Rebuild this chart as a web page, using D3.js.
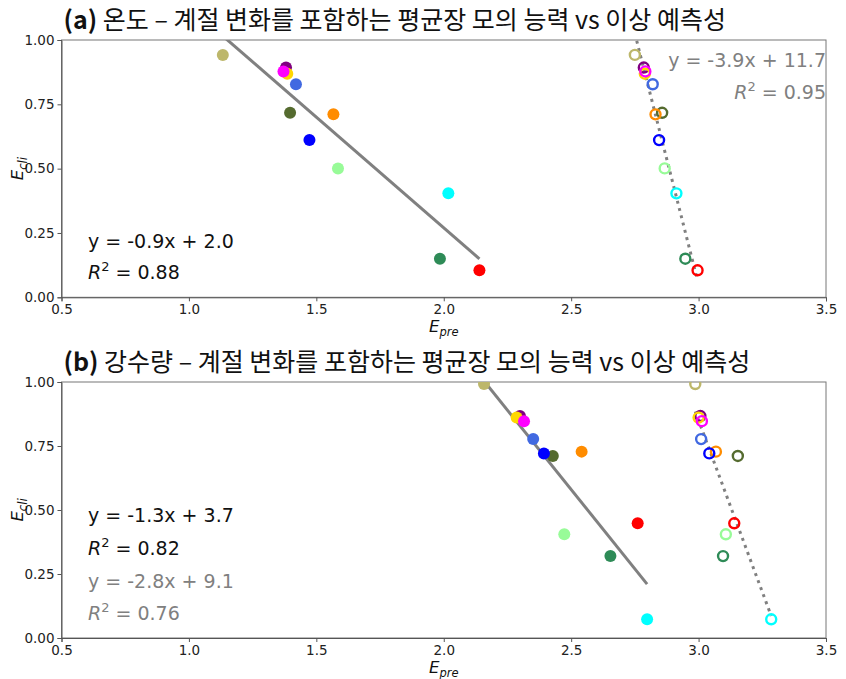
<!DOCTYPE html>
<html>
<head>
<meta charset="utf-8">
<script src="https://cdn.jsdelivr.net/npm/d3@7"></script>
<style>
  body { margin: 0; background: #fff; }
  svg { display: block; }
  .tick text { font-family: 'DejaVu Sans', sans-serif; font-size: 13.5px; fill: #222; }
  .domain, .tick line { stroke: #555; }
</style>
</head>
<body>
<svg id="chart" width="846" height="679"></svg>
<script>
'use strict';

// model colours (same order in every array below)
var colors = ['darkkhaki', 'purple', 'gold', 'magenta', 'royalblue', 'darkolivegreen',
  'darkorange', 'blue', 'palegreen', 'cyan', 'seagreen', 'red'];

// (a) temperature
var tempCli = [0.942, 0.893, 0.869, 0.878, 0.828, 0.717, 0.711, 0.611, 0.501, 0.404, 0.150, 0.105];
var tempPreFilled = [1.133, 1.381, 1.386, 1.371, 1.420, 1.397, 1.567, 1.473, 1.585, 2.018, 1.985, 2.140];
var tempPreOpen = [2.750, 2.785, 2.789, 2.791, 2.820, 2.857, 2.831, 2.845, 2.867, 2.913, 2.948, 2.996];

// (b) precipitation
var precipCli = [0.992, 0.867, 0.861, 0.847, 0.777, 0.711, 0.728, 0.721, 0.405, 0.073, 0.320, 0.448];
var precipPreFilled = [2.158, 2.299, 2.286, 2.315, 2.351, 2.428, 2.541, 2.393, 2.473, 2.798, 2.654, 2.761];
var precipPreOpen = [2.987, 3.007, 3.000, 3.013, 3.010, 3.154, 3.068, 3.042, 3.107, 3.285, 3.096, 3.140];

// fitted lines
var tempFitFilled = { slope: -0.86, intercept: 1.99, eq: 'y = -0.9x + 2.0', r2: '0.88' };
var tempFitOpen = { slope: -3.9, intercept: 11.75, eq: 'y = -3.9x + 11.7', r2: '0.95' };
var precipFitFilled = { slope: -1.24, intercept: 3.68, eq: 'y = -1.3x + 3.7', r2: '0.82' };
var precipFitOpen = { slope: -2.68, intercept: 8.89, eq: 'y = -2.8x + 9.1', r2: '0.76' };

var xTicks = [0.5, 1.0, 1.5, 2.0, 2.5, 3.0, 3.5];
var yTicks = [0, 0.25, 0.5, 0.75, 1.0];

var titleA = ['(a)', ' 온도 – 계절 변화를 포함하는 평균장 모의 능력 vs 이상 예측성'];
var titleB = ['(b)', ' 강수량 – 계절 변화를 포함하는 평균장 모의 능력 vs 이상 예측성'];

var svg = d3.select('#chart');
var left = 61.5, right = 826;

function panel(top, bottom, title, cli, preFilled, preOpen, fitFilled, fitOpen, eqLayout, id) {
  var x = d3.scaleLinear().domain([0.5, 3.5]).range([left, right]);
  var y = d3.scaleLinear().domain([0, 1]).range([bottom, top]);

  svg.append('clipPath').attr('id', id).append('rect')
    .attr('x', left).attr('y', top).attr('width', right - left).attr('height', bottom - top);

  // title
  var t = svg.append('text').attr('x', left + 2).attr('y', top - 11)
    .attr('font-family', "'Noto Sans CJK KR', 'Noto Sans', sans-serif")
    .attr('font-size', 25).attr('fill', '#111');
  t.append('tspan').attr('font-weight', 'bold').text(title[0]);
  t.append('tspan').text(title[1]);

  // frame
  svg.append('rect').attr('x', left).attr('y', top).attr('width', right - left).attr('height', bottom - top)
    .attr('fill', 'none').attr('stroke', '#777').attr('stroke-width', 1);

  svg.append('g').attr('transform', 'translate(0,' + bottom + ')')
    .call(d3.axisBottom(x).tickValues(xTicks).tickFormat(d3.format('.1f')).tickSizeOuter(0).tickSize(4));
  svg.append('g').attr('transform', 'translate(' + left + ',0)')
    .call(d3.axisLeft(y).tickValues(yTicks).tickFormat(d3.format('.2f')).tickSizeOuter(0).tickSize(4));

  // axis labels
  var xl = svg.append('text').attr('x', (left + right) / 2).attr('y', bottom + 35)
    .attr('text-anchor', 'middle').attr('font-family', 'DejaVu Sans, sans-serif')
    .attr('font-size', 16.5).attr('font-style', 'italic').attr('fill', '#111');
  xl.append('tspan').text('E');
  xl.append('tspan').attr('font-size', 11.5).attr('dy', 4).text('pre');

  var yl = svg.append('text').attr('transform', 'translate(23,' + (top + bottom) / 2 + ') rotate(-90)')
    .attr('text-anchor', 'middle').attr('font-family', 'DejaVu Sans, sans-serif')
    .attr('font-size', 16.5).attr('font-style', 'italic').attr('fill', '#111');
  yl.append('tspan').text('E');
  yl.append('tspan').attr('font-size', 11.5).attr('dy', 4).text('cli');

  var plot = svg.append('g').attr('clip-path', 'url(#' + id + ')');

  function fitLine(fit, xs, dash) {
    var ext = d3.extent(xs);
    plot.append('path')
      .datum(ext)
      .attr('d', d3.line().x(function (d) { return x(d); }).y(function (d) { return y(fit.slope * d + fit.intercept); }))
      .attr('fill', 'none').attr('stroke', 'gray').attr('stroke-width', 3)
      .attr('stroke-dasharray', dash ? '3,4.5' : null);
  }
  fitLine(fitFilled, preFilled, false);
  fitLine(fitOpen, preOpen, true);

  plot.selectAll('circle.filled').data(cli).enter().append('circle')
    .attr('class', 'filled')
    .attr('cx', function (d, i) { return x(preFilled[i]); })
    .attr('cy', function (d) { return y(d); })
    .attr('r', 6)
    .attr('fill', function (d, i) { return colors[i]; });

  plot.selectAll('circle.open').data(cli).enter().append('circle')
    .attr('class', 'open')
    .attr('cx', function (d, i) { return x(preOpen[i]); })
    .attr('cy', function (d) { return y(d); })
    .attr('r', 5)
    .attr('fill', 'none').attr('stroke-width', 2.4)
    .attr('stroke', function (d, i) { return colors[i]; });

  // equations
  eqLayout.forEach(function (e) {
    var g = svg.append('text').attr('x', e.x).attr('y', e.y)
      .attr('text-anchor', e.anchor).attr('font-family', 'DejaVu Sans, sans-serif')
      .attr('font-size', 19).attr('fill', e.color);
    if (e.r2) {
      g.append('tspan').attr('font-style', 'italic').text('R');
      g.append('tspan').attr('font-size', 13).attr('dy', -8).text('2');
      g.append('tspan').attr('dy', 8).text(' = ' + e.fit.r2);
    } else {
      g.text(e.fit.eq);
    }
  });
}

panel(40, 297.3, titleA, tempCli, tempPreFilled, tempPreOpen, tempFitFilled, tempFitOpen, [
  { x: 88, y: 248, anchor: 'start', color: '#111', fit: tempFitFilled },
  { x: 88, y: 279, anchor: 'start', color: '#111', fit: tempFitFilled, r2: true },
  { x: 826, y: 67, anchor: 'end', color: 'gray', fit: tempFitOpen },
  { x: 826, y: 99, anchor: 'end', color: 'gray', fit: tempFitOpen, r2: true }
], 'clipA');

panel(382, 638, titleB, precipCli, precipPreFilled, precipPreOpen, precipFitFilled, precipFitOpen, [
  { x: 88, y: 522, anchor: 'start', color: '#111', fit: precipFitFilled },
  { x: 88, y: 555, anchor: 'start', color: '#111', fit: precipFitFilled, r2: true },
  { x: 88, y: 588, anchor: 'start', color: 'gray', fit: precipFitOpen },
  { x: 88, y: 620, anchor: 'start', color: 'gray', fit: precipFitOpen, r2: true }
], 'clipB');
</script>
</body>
</html>
